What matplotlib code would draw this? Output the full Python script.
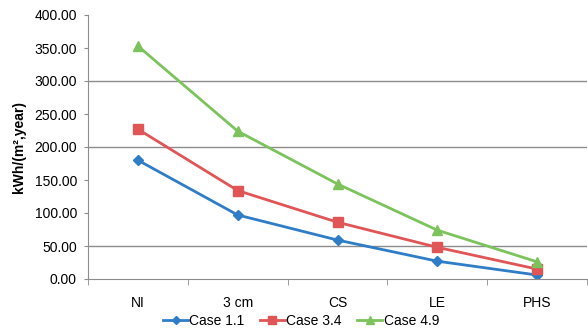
import numpy as np
import matplotlib.pyplot as plt

plt.rcParams['font.family'] = ['Liberation Sans', 'DejaVu Sans']

categories = ['NI', '3 cm', 'CS', 'LE', 'PHS']
case_11 = [180, 97, 59, 27, 6]
case_34 = [227, 134, 86, 48, 15]
case_49 = [353, 224, 144, 74, 26]
y_ticks = [0, 50, 100, 150, 200, 250, 300, 350, 400]
grid_values = [50, 200, 300]


def line_chart():
    fig = plt.figure(figsize=(5.88, 3.32), dpi=100)
    ax = fig.add_axes([88 / 588, 53 / 332, 499 / 588, 264 / 332])
    x = np.arange(len(categories))

    for g in grid_values:
        ax.axhline(g, color='#8c8c8c', lw=1.0, zorder=0)

    ax.plot(x, case_11, color='#2e7dc6', lw=2, marker='D', ms=5, label='Case 1.1')
    ax.plot(x, case_34, color='#e05555', lw=2, marker='s', ms=6.5, label='Case 3.4')
    ax.plot(x, case_49, color='#7cc35c', lw=2, marker='^', ms=7.5, label='Case 4.9')

    ax.set_xlim(-0.5, len(categories) - 0.5)
    ax.set_ylim(0, 400)
    ax.set_yticks(y_ticks)
    ax.set_yticklabels(['%.2f' % v for v in y_ticks], fontsize=10)
    ax.set_xticks(x)
    ax.set_xticklabels(categories, fontsize=10)
    ax.set_xticks(np.arange(-0.5, len(categories)), minor=True)
    ax.tick_params(axis='x', which='major', length=0, pad=12)
    ax.tick_params(axis='x', which='minor', length=4, color='#8c8c8c')
    ax.tick_params(axis='y', length=3, pad=5, color='#8c8c8c')

    for s in ['top', 'right']:
        ax.spines[s].set_visible(False)
    for s in ['left', 'bottom']:
        ax.spines[s].set_color('#8c8c8c')

    ax.set_ylabel('kWh/(m²,year)', fontsize=10, fontweight='bold', labelpad=6)

    fig.legend(loc='center', bbox_to_anchor=(301 / 588, 1 - 321 / 332), ncol=3,
               frameon=False, fontsize=10, handlelength=1.8, columnspacing=1.1,
               handletextpad=0.1, markerscale=0.8)
    fig.savefig('out.png', dpi=100)


def main():
    line_chart()


if __name__ == "__main__":
    main()
